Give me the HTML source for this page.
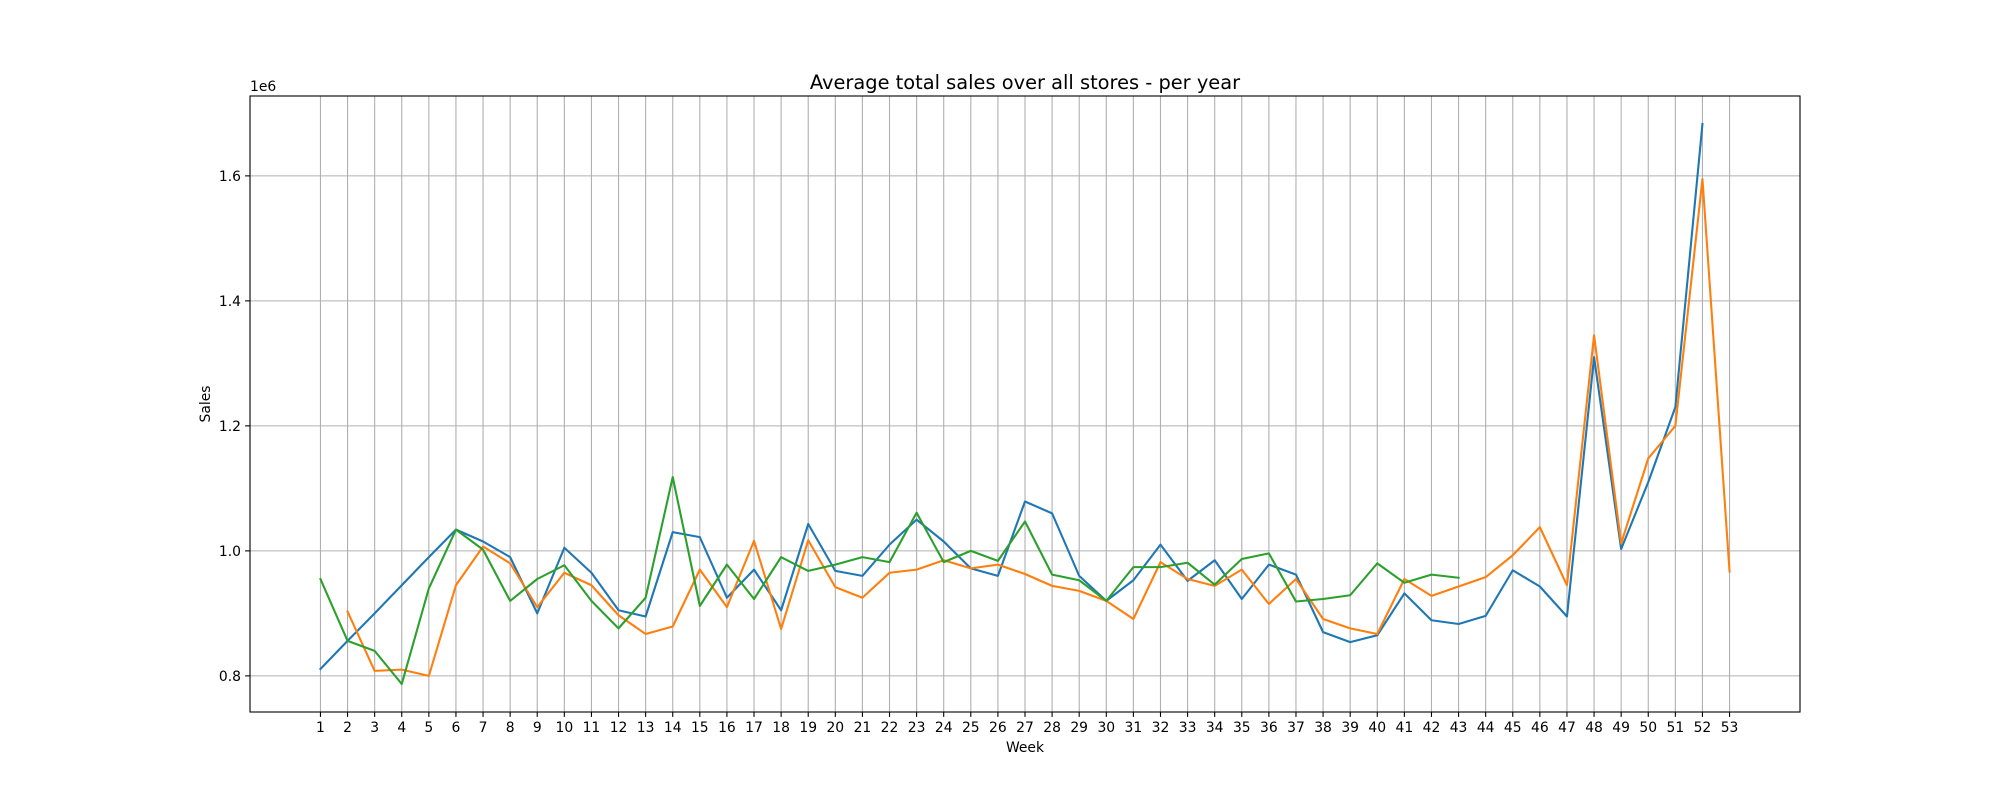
<!DOCTYPE html>
<html><head><meta charset="utf-8"><style>
html,body{margin:0;padding:0;background:#fff;}
svg{display:block;font-family:"DejaVu Sans","Liberation Sans",sans-serif;}
</style></head><body>
<svg id="chart" width="2000" height="800" xmlns="http://www.w3.org/2000/svg"></svg>
<script>
const weeks = Array.from({length:53},(_,i)=>i+1);
const yTicks = [0.8,1.0,1.2,1.4,1.6];
const yTickLabels = ["0.8","1.0","1.2","1.4","1.6"];
const blueStart = 1;
const blueValues = [0.811,0.856,0.9,0.945,0.99,1.034,1.015,0.99,0.90,1.005,0.965,0.905,0.895,1.03,1.022,0.925,0.97,0.905,1.043,0.968,0.96,1.01,1.05,1.015,0.972,0.96,1.079,1.06,0.96,0.92,0.953,1.01,0.952,0.985,0.923,0.978,0.962,0.87,0.854,0.865,0.932,0.889,0.883,0.896,0.969,0.943,0.895,1.31,1.003,1.11,1.23,1.683];
const orangeStart = 2;
const orangeValues = [0.903,0.808,0.81,0.80,0.945,1.007,0.98,0.91,0.965,0.945,0.897,0.867,0.879,0.97,0.91,1.016,0.875,1.017,0.942,0.925,0.965,0.97,0.985,0.972,0.978,0.963,0.944,0.936,0.92,0.891,0.982,0.955,0.944,0.97,0.915,0.955,0.891,0.876,0.867,0.955,0.928,0.943,0.958,0.993,1.038,0.945,1.345,1.012,1.148,1.2,1.595,0.967];
const greenStart = 1;
const greenValues = [0.955,0.856,0.84,0.787,0.94,1.034,1.002,0.92,0.955,0.977,0.92,0.876,0.925,1.118,0.912,0.978,0.923,0.99,0.968,0.978,0.99,0.982,1.061,0.982,1.0,0.984,1.047,0.962,0.953,0.92,0.974,0.974,0.981,0.946,0.987,0.996,0.919,0.923,0.929,0.98,0.949,0.962,0.957];

const NS="http://www.w3.org/2000/svg";
const svg=document.getElementById('chart');
const L=250,R=1800,T=96,B=712;
const xMin=-1.6,xMax=55.6;
const all=blueValues.concat(orangeValues,greenValues);
const dmin=Math.min(...all),dmax=Math.max(...all),m=(dmax-dmin)*0.05;
const yMin=dmin-m,yMax=dmax+m;
const X=v=>L+(v-xMin)/(xMax-xMin)*(R-L);
const Y=v=>B-(v-yMin)/(yMax-yMin)*(B-T);
function el(tag,attrs){const e=document.createElementNS(NS,tag);for(const k in attrs)e.setAttribute(k,attrs[k]);svg.appendChild(e);return e;}
function txt(s,attrs){const e=el('text',attrs);e.textContent=s;return e;}

weeks.forEach(w=>{
  const g=el('line',{x1:X(w),x2:X(w),y1:T,y2:B,stroke:'#b0b0b0','stroke-width':1.1});
  
  
});
yTicks.forEach(v=>{
  const g=el('line',{x1:L,x2:R,y1:Y(v),y2:Y(v),stroke:'#b0b0b0','stroke-width':1.1});
  
  
});
function series(start,vals,color,name){
  const pts=vals.map((v,i)=>X(start+i).toFixed(2)+','+Y(v).toFixed(2)).join(' ');
  const p=el('polyline',{points:pts,fill:'none',stroke:color,'stroke-width':2.1,'stroke-linejoin':'round','stroke-linecap':'square'});
  
  
}
series(blueStart,blueValues,'#1f77b4','series-blue-line');
series(orangeStart,orangeValues,'#ff7f0e','series-orange-line');
series(greenStart,greenValues,'#2ca02c','series-green-line');
const f=el('rect',{x:L,y:T,width:R-L,height:B-T,fill:'none',stroke:'#000','stroke-width':1.1});


weeks.forEach(w=>{
  el('line',{x1:X(w),x2:X(w),y1:B,y2:B+4.9,stroke:'#000','stroke-width':1.1});
  const t=txt(String(w),{x:X(w),y:B+20,'font-size':13.9,'text-anchor':'middle',fill:'#000'});
  
  
});
yTicks.forEach((v,i)=>{
  el('line',{x1:L-4.9,x2:L,y1:Y(v),y2:Y(v),stroke:'#000','stroke-width':1.1});
  const t=txt(yTickLabels[i],{x:L-9,y:Y(v)+5,'font-size':13.9,'text-anchor':'end',fill:'#000'});
  
  
});
const off=txt('1e6',{x:L,y:T-5,'font-size':13.9,fill:'#000'});


const xl=txt('Week',{x:(L+R)/2,y:752,'font-size':13.9,'text-anchor':'middle',fill:'#000'});


const yl=txt('Sales',{x:0,y:0,'font-size':13.9,'text-anchor':'middle',fill:'#000',transform:`translate(210,${(T+B)/2}) rotate(-90)`});


const ti=txt('Average total sales over all stores - per year',{x:(L+R)/2,y:89,'font-size':19.4,'text-anchor':'middle',fill:'#000'});


</script>
</body></html>
